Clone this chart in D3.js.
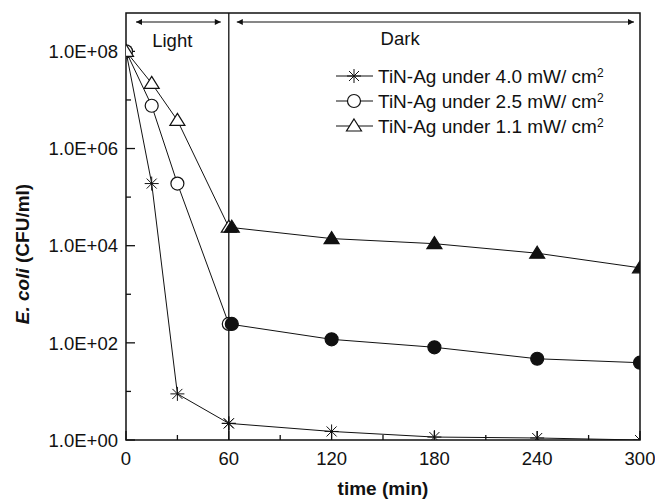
<!DOCTYPE html>
<html lang="en">
<head>
    <meta charset="utf-8">
    <script src="https://d3js.org/d3.v7.min.js"></script>
    <style>
        body { margin: 0; background: #fff; }
        text { font-family: Arial, "Liberation Sans", sans-serif; fill: #111; }
    </style>
</head>
<body>
<script type="text/javascript">

    // light phase (0-60 min) and dark phase (60-300 min)
    var lightTimes = [0, 15, 30, 60];
    var darkTimes = [60, 120, 180, 240, 300];

    var light40 = [1e8, 1.9e5, 8.9, 2.2];
    var dark40 = [2.2, 1.5, 1.15, 1.1, 1.0];
    var light25 = [1e8, 7.6e6, 1.9e5, 245];
    var dark25 = [245, 118, 81, 47, 39];
    var light11 = [1e8, 2.2e7, 3.8e6, 2.4e4];
    var dark11 = [2.4e4, 1.4e4, 1.1e4, 7e3, 3.5e3];

    var seriesNames = ["TiN-Ag under 4.0 mW/ cm", "TiN-Ag under 2.5 mW/ cm", "TiN-Ag under 1.1 mW/ cm"];
    var xTicks = [0, 60, 120, 180, 240, 300];
    var xMinor = [30, 90, 150, 210, 270];
    var yTicks = [1e0, 1e2, 1e4, 1e6, 1e8];
    var yMinor = [1e1, 1e3, 1e5, 1e7];

    var margin = {top: 13, right: 15, bottom: 60, left: 126},
        width = 655 - margin.left - margin.right,
        height = 500 - margin.top - margin.bottom;

    var svg = d3.select("body")
        .append("svg")
        .attr("width", 655)
        .attr("height", 500);

    var g = svg.append("g").attr("transform", "translate(" + margin.left + "," + margin.top + ")");

    var x = d3.scaleLinear().domain([0, 300]).range([0, width]);
    var y = d3.scaleLog().domain([1, Math.pow(10, 8.79)]).range([height, 0]);

    g.append("clipPath").attr("id", "clip")
        .append("rect").attr("width", width).attr("height", height);

    // ticks (pointing inward)
    var axes = g.append("g").attr("stroke", "#111").attr("stroke-width", 1.3);
    yTicks.forEach(function(v) {
        axes.append("line").attr("x1", 0).attr("x2", 9).attr("y1", y(v)).attr("y2", y(v));
    });
    yMinor.forEach(function(v) {
        axes.append("line").attr("x1", 0).attr("x2", 5).attr("y1", y(v)).attr("y2", y(v));
    });
    xTicks.forEach(function(v) {
        axes.append("line").attr("x1", x(v)).attr("x2", x(v)).attr("y1", height).attr("y2", height - 9);
    });
    xMinor.forEach(function(v) {
        axes.append("line").attr("x1", x(v)).attr("x2", x(v)).attr("y1", height).attr("y2", height - 5);
    });

    g.selectAll(".ylab").data(yTicks).enter().append("text")
        .attr("x", -8).attr("y", function(d) { return y(d); })
        .attr("dy", "0.36em")
        .attr("text-anchor", "end")
        .style("font-size", "18.5px")
        .text(function(d) { return "1.0E+" + d3.format("02d")(Math.round(Math.log10(d))); });

    g.selectAll(".xlab").data(xTicks).enter().append("text")
        .attr("x", function(d) { return x(d); }).attr("y", height + 25)
        .attr("text-anchor", "middle")
        .style("font-size", "18.5px")
        .text(function(d) { return d; });

    // frame + light/dark divider
    g.append("rect").attr("width", width).attr("height", height)
        .attr("fill", "none").attr("stroke", "#111").attr("stroke-width", 1.5);
    g.append("line").attr("x1", x(60)).attr("x2", x(60)).attr("y1", 0).attr("y2", height)
        .attr("stroke", "#111").attr("stroke-width", 1.3);

    // arrows
    var defs = svg.append("defs");
    defs.append("marker").attr("id", "ah").attr("viewBox", "0 0 10 10")
        .attr("refX", 10).attr("refY", 5).attr("markerWidth", 11).attr("markerHeight", 6)
        .attr("markerUnits", "userSpaceOnUse").attr("orient", "auto-start-reverse")
        .append("path").attr("d", "M0,0L10,5L0,10Z").attr("fill", "#111");

    var arrowY = 9;
    [[x(0) + 10, x(60) - 8], [x(60) + 8, x(300) - 6]].forEach(function(a) {
        g.append("line").attr("x1", a[0]).attr("x2", a[1]).attr("y1", arrowY).attr("y2", arrowY)
            .attr("stroke", "#111").attr("stroke-width", 1.2)
            .attr("marker-start", "url(#ah)").attr("marker-end", "url(#ah)");
    });
    g.append("text").attr("x", x(27)).attr("y", 34).attr("text-anchor", "middle")
        .style("font-size", "18.5px").text("Light");
    g.append("text").attr("x", x(160)).attr("y", 32).attr("text-anchor", "middle")
        .style("font-size", "18.5px").text("Dark");

    // markers
    var star = "M-7,0L7,0M0,-7L0,7M-5,-5L5,5M-5,5L5,-5";
    var tri = "M0,-7L7.5,5L-7.5,5Z";
    function marker(sel, kind, filled) {
        if (kind === 0) {
            sel.append("path").attr("d", star).attr("stroke", "#111").attr("stroke-width", 1).attr("fill", "none");
        } else if (kind === 1) {
            sel.append("circle").attr("r", 6.5).attr("stroke", "#111").attr("stroke-width", 1.2)
                .attr("fill", filled ? "#111" : "#fff");
        } else {
            sel.append("path").attr("d", tri).attr("stroke", "#111").attr("stroke-width", 1.2)
                .attr("fill", filled ? "#111" : "#fff");
        }
    }

    var line = d3.line().x(function(d) { return x(d[0]); }).y(function(d) { return y(d[1]); });
    var data = g.append("g").attr("clip-path", "url(#clip)");
    var series = [[light40, dark40], [light25, dark25], [light11, dark11]];

    series.forEach(function(s, k) {
        var lp = lightTimes.map(function(t, i) { return [t, s[0][i]]; });
        var dp = darkTimes.map(function(t, i) { return [t, s[1][i]]; });
        data.append("path").attr("d", line(lp)).attr("fill", "none").attr("stroke", "#111").attr("stroke-width", 1);
        data.append("path").attr("d", line(dp)).attr("fill", "none").attr("stroke", "#111").attr("stroke-width", 1);
        lp.forEach(function(p) {
            marker(data.append("g").attr("transform", "translate(" + x(p[0]) + "," + y(p[1]) + ")"), k, false);
        });
        dp.forEach(function(p, i) {
            var dx = (i === 0 && k > 0) ? 3 : 0;
            marker(data.append("g").attr("transform", "translate(" + (x(p[0]) + dx) + "," + y(p[1]) + ")"), k, true);
        });
    });

    // legend
    var leg = svg.append("g").attr("transform", "translate(336,76)");
    seriesNames.forEach(function(name, k) {
        var row = leg.append("g").attr("transform", "translate(0," + (k * 25) + ")");
        row.append("line").attr("x1", 0).attr("x2", 37).attr("stroke", "#111").attr("stroke-width", 1.2);
        marker(row.append("g").attr("transform", "translate(18,0)"), k, false);
        var t = row.append("text").attr("x", 42).attr("dy", "0.36em").style("font-size", "19px");
        t.append("tspan").text(name);
        t.append("tspan").attr("dy", "-0.45em").style("font-size", "12px").text("2");
    });

    // axis titles
    svg.append("text").attr("x", margin.left + width / 2).attr("y", 495)
        .attr("text-anchor", "middle").style("font-size", "19px").style("font-weight", "bold")
        .text("time (min)");
    var yt = svg.append("text")
        .attr("transform", "translate(29,254) rotate(-90)")
        .attr("text-anchor", "middle").style("font-size", "19px").style("font-weight", "bold");
    yt.append("tspan").style("font-style", "italic").text("E. coli");
    yt.append("tspan").text(" (CFU/ml)");

</script>
</body>
</html>
